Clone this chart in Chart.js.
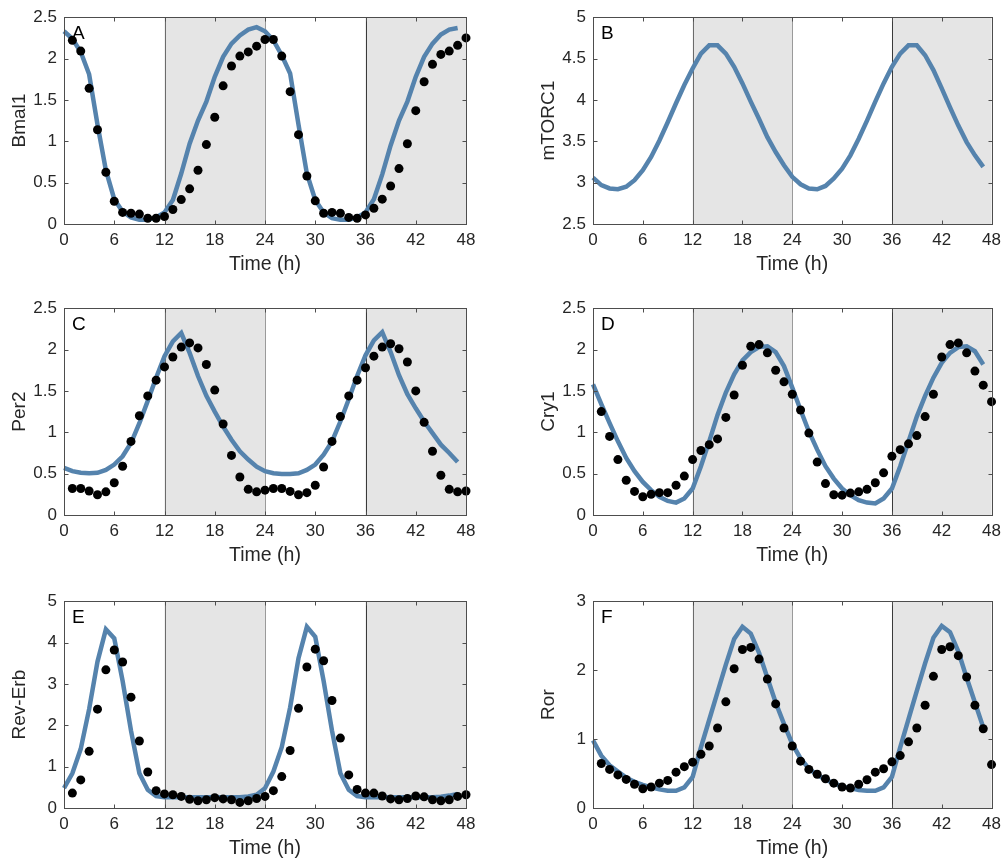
<!DOCTYPE html>
<html>
<head>
<meta charset="utf-8">
<script src="https://cdn.jsdelivr.net/npm/chart.js@4.4.1/dist/chart.umd.min.js"></script>
<style>
  body { margin: 0; background: #fff; }
  #wrap { position: relative; width: 1007px; height: 861px; overflow: hidden; }
  canvas { position: absolute; }
</style>
</head>
<body>
<div id="wrap">
  <canvas id="pA" width="490" height="280" style="left:0;top:0"></canvas>
  <canvas id="pB" width="478" height="280" style="left:529px;top:0"></canvas>
  <canvas id="pC" width="490" height="280" style="left:0;top:291px"></canvas>
  <canvas id="pD" width="478" height="280" style="left:529px;top:291px"></canvas>
  <canvas id="pE" width="490" height="280" style="left:0;top:584px"></canvas>
  <canvas id="pF" width="478" height="280" style="left:529px;top:584px"></canvas>
</div>
<script>
// time points (h)
const hoursModel = [0,1,2,3,4,5,6,7,8,9,10,11,12,13,14,15,16,17,18,19,20,21,22,23,
  24,25,26,27,28,29,30,31,32,33,34,35,36,37,38,39,40,41,42,43,44,45,46,47];
const hoursData = [1,2,3,4,5,6,7,8,9,10,11,12,13,14,15,16,17,18,19,20,21,22,23,24,
  25,26,27,28,29,30,31,32,33,34,35,36,37,38,39,40,41,42,43,44,45,46,47,48];
const xTicks = [0, 6, 12, 18, 24, 30, 36, 42, 48];
const darkPhases = [[12, 24], [36, 48]];
const phaseLines = [12, 24, 36];

// A - Bmal1
const bmal1Model = [2.33,2.24,2.08,1.81,1.2,0.65,0.3,0.15,0.08,0.05,0.05,0.08,
  0.14,0.29,0.61,0.97,1.25,1.48,1.78,2.02,2.18,2.28,2.35,2.38,
  2.33,2.22,2.04,1.82,1.2,0.61,0.29,0.14,0.07,0.05,0.05,0.08,
  0.14,0.3,0.6,0.95,1.25,1.48,1.78,2.02,2.18,2.29,2.35,2.37];
const bmal1Data = [2.22,2.09,1.64,1.14,0.625,0.275,0.14,0.13,0.12,0.07,0.07,0.09,
  0.175,0.295,0.425,0.65,0.96,1.29,1.67,1.91,2.03,2.08,2.15,2.23,
  2.23,2.03,1.60,1.08,0.58,0.28,0.13,0.14,0.13,0.08,0.07,0.11,
  0.19,0.30,0.46,0.67,0.97,1.37,1.72,1.93,2.05,2.09,2.16,2.25];
const bmal1Ticks = [0, 0.5, 1, 1.5, 2, 2.5];

// B - mTORC1
const mtorc1Model = [3.06,2.97,2.93,2.92,2.95,3.03,3.15,3.31,3.51,3.73,3.96,4.18,
  4.38,4.56,4.66,4.66,4.56,4.40,4.20,3.98,3.77,3.55,3.37,3.21,
  3.07,2.98,2.93,2.92,2.96,3.05,3.17,3.33,3.53,3.75,3.98,4.20,
  4.40,4.56,4.66,4.66,4.54,4.36,4.14,3.91,3.69,3.49,3.33,3.19];
const mtorc1Ticks = [2.5, 3, 3.5, 4, 4.5, 5];

// C - Per2
const per2Model = [0.57,0.53,0.51,0.505,0.51,0.545,0.61,0.71,0.87,1.11,1.38,1.66,
  1.92,2.10,2.20,1.96,1.68,1.44,1.25,1.07,0.91,0.77,0.67,0.585,
  0.53,0.505,0.495,0.495,0.505,0.545,0.61,0.73,0.89,1.13,1.40,1.68,
  1.93,2.11,2.21,1.97,1.69,1.46,1.29,1.13,0.99,0.85,0.75,0.64];
const per2Data = [0.32,0.32,0.29,0.245,0.28,0.39,0.59,0.89,1.20,1.44,1.63,1.79,
  1.91,2.03,2.08,2.02,1.82,1.51,1.10,0.72,0.46,0.31,0.28,0.30,
  0.32,0.32,0.285,0.245,0.27,0.36,0.58,0.89,1.19,1.44,1.63,1.78,
  1.92,2.03,2.07,2.01,1.85,1.50,1.12,0.77,0.48,0.31,0.28,0.29];
const per2Ticks = [0, 0.5, 1, 1.5, 2, 2.5];

// D - Cry1
const cry1Model = [1.58,1.34,1.11,0.89,0.69,0.53,0.40,0.30,0.22,0.17,0.15,0.20,
  0.32,0.59,0.89,1.21,1.48,1.70,1.87,1.97,2.03,2.04,1.97,1.80,
  1.54,1.27,1.01,0.79,0.59,0.44,0.32,0.24,0.18,0.15,0.14,0.20,
  0.32,0.59,0.89,1.19,1.44,1.66,1.84,1.96,2.03,2.04,1.98,1.82];
const cry1Data = [1.25,0.95,0.67,0.42,0.285,0.22,0.25,0.27,0.27,0.36,0.47,0.67,
  0.78,0.85,0.92,1.18,1.45,1.81,2.04,2.06,1.96,1.75,1.61,1.46,
  1.27,0.99,0.64,0.38,0.245,0.24,0.265,0.28,0.31,0.39,0.51,0.71,
  0.79,0.86,0.96,1.19,1.46,1.91,2.06,2.08,1.96,1.74,1.57,1.37];
const cry1Ticks = [0, 0.5, 1, 1.5, 2, 2.5];

// E - Rev-Erb
const revErbModel = [0.48,0.84,1.43,2.39,3.54,4.32,4.10,3.07,1.87,0.84,0.44,0.29,
  0.26,0.26,0.26,0.26,0.26,0.26,0.26,0.26,0.26,0.26,0.28,0.32,
  0.48,0.88,1.47,2.43,3.62,4.38,4.14,3.07,1.87,0.84,0.44,0.29,
  0.26,0.26,0.26,0.26,0.26,0.26,0.26,0.26,0.26,0.27,0.30,0.34];
const revErbData = [0.36,0.68,1.37,2.39,3.34,3.82,3.53,2.68,1.62,0.87,0.42,0.34,
  0.32,0.28,0.21,0.175,0.20,0.25,0.22,0.20,0.135,0.175,0.23,0.28,
  0.42,0.76,1.39,2.41,3.41,3.84,3.56,2.60,1.69,0.80,0.45,0.36,
  0.36,0.29,0.22,0.20,0.23,0.29,0.27,0.20,0.175,0.20,0.28,0.32];
const revErbTicks = [0, 1, 2, 3, 4, 5];

// F - Ror
const rorModel = [0.98,0.76,0.62,0.53,0.44,0.38,0.335,0.30,0.27,0.25,0.25,0.30,
  0.45,0.88,1.28,1.68,2.08,2.45,2.63,2.53,2.25,1.89,1.53,1.22,
  0.93,0.72,0.57,0.48,0.41,0.36,0.31,0.29,0.26,0.25,0.25,0.30,
  0.45,0.88,1.29,1.70,2.10,2.47,2.64,2.55,2.27,1.89,1.53,1.17];
const rorData = [0.645,0.56,0.48,0.415,0.345,0.28,0.305,0.36,0.40,0.52,0.60,0.665,
  0.78,0.90,1.16,1.54,2.02,2.30,2.33,2.16,1.87,1.51,1.16,0.90,
  0.68,0.56,0.49,0.425,0.36,0.305,0.29,0.345,0.41,0.52,0.57,0.67,
  0.76,0.96,1.16,1.49,1.91,2.30,2.34,2.21,1.90,1.49,1.15,0.63];
const rorTicks = [0, 1, 2, 3];

const FONT = "'Liberation Sans', Arial, Helvetica, sans-serif";
const TXT = '#262626';
const BLUE = '#5583ad';

// grey night bands + phase lines behind the data
const shadePlugin = {
  id: 'shade',
  beforeDatasetsDraw(chart) {
    const { ctx, chartArea: a } = chart;
    const x = chart.scales.x;
    ctx.save();
    ctx.fillStyle = '#e5e5e5';
    darkPhases.forEach(([s, e]) => {
      const x0 = x.getPixelForValue(s), x1 = x.getPixelForValue(e);
      ctx.fillRect(x0, a.top, x1 - x0, a.bottom - a.top);
    });
    const lineCols = ['#6b6b6b', '#9a9a9a', '#3a3a3a'];
    phaseLines.forEach((t, i) => {
      const px = Math.round(x.getPixelForValue(t)) + 0.5;
      ctx.strokeStyle = lineCols[i];
      ctx.lineWidth = 1;
      ctx.beginPath();
      ctx.moveTo(px, a.top);
      ctx.lineTo(px, a.bottom);
      ctx.stroke();
    });
    ctx.restore();
  }
};

// matlab style box with inward ticks and panel letter
const boxPlugin = {
  id: 'box',
  afterDraw(chart, args, opts) {
    const { ctx, chartArea: a } = chart;
    const { x, y } = chart.scales;
    const L = Math.round(a.left) + 0.5, R = Math.round(a.right) + 0.5;
    const T = Math.round(a.top) + 0.5, B = Math.round(a.bottom) + 0.5;
    ctx.save();
    ctx.strokeStyle = '#4d4d4d';
    ctx.lineWidth = 1;
    ctx.strokeRect(L, T, R - L, B - T);
    ctx.beginPath();
    x.ticks.forEach(t => {
      const px = Math.round(x.getPixelForValue(t.value)) + 0.5;
      ctx.moveTo(px, B); ctx.lineTo(px, B - 4);
      ctx.moveTo(px, T); ctx.lineTo(px, T + 4);
    });
    y.ticks.forEach(t => {
      const py = Math.round(y.getPixelForValue(t.value)) + 0.5;
      ctx.moveTo(L, py); ctx.lineTo(L + 4, py);
      ctx.moveTo(R, py); ctx.lineTo(R - 4, py);
    });
    ctx.stroke();
    ctx.fillStyle = '#000';
    ctx.font = '19px ' + FONT;
    ctx.textBaseline = 'middle';
    ctx.textAlign = 'left';
    ctx.fillText(opts.letter, a.left + 8, a.top + 17);
    ctx.restore();
  }
};

function makePanel(id, letter, yLabel, model, data, yTicks) {
  const datasets = [];
  if (data) {
    datasets.push({
      data: hoursData.map((t, i) => ({ x: t, y: data[i] })),
      showLine: false,
      pointRadius: 4.5,
      pointBackgroundColor: '#000',
      pointBorderWidth: 0,
      clip: false,
      order: 0
    });
  }
  datasets.push({
    data: hoursModel.map((t, i) => ({ x: t, y: model[i] })),
    showLine: true,
    borderColor: BLUE,
    borderWidth: 4.5,
    pointRadius: 0,
    tension: 0,
    clip: false,
    order: 1
  });

  new Chart(document.getElementById(id), {
    type: 'scatter',
    data: { datasets },
    plugins: [shadePlugin, boxPlugin],
    options: {
      responsive: false,
      animation: false,
      events: [],
      layout: { padding: { top: 15, right: id === 'pA' || id === 'pC' || id === 'pE' ? 24 : 13, left: 0, bottom: 0 } },
      plugins: {
        legend: { display: false },
        tooltip: { enabled: false },
        box: { letter }
      },
      scales: {
        x: {
          type: 'linear',
          min: 0, max: 48,
          afterBuildTicks: s => { s.ticks = xTicks.map(v => ({ value: v })); },
          afterFit: s => { s.height = 56; },
          grid: { display: false, drawTicks: false },
          border: { display: false },
          ticks: { color: TXT, font: { family: FONT, size: 17 }, padding: 6, maxRotation: 0, autoSkip: false, callback: v => String(v) },
          title: { display: true, text: 'Time (h)', color: TXT, font: { family: FONT, size: 19.5 }, padding: { top: 0, bottom: 4 } }
        },
        y: {
          type: 'linear',
          min: yTicks[0], max: yTicks[yTicks.length - 1],
          afterBuildTicks: s => { s.ticks = yTicks.map(v => ({ value: v })); },
          afterFit: s => { s.width = 64; },
          grid: { display: false, drawTicks: false },
          border: { display: false },
          ticks: { color: TXT, font: { family: FONT, size: 17 }, padding: 7, autoSkip: false, callback: v => String(v) },
          title: { display: true, text: yLabel, color: TXT, font: { family: FONT, size: 19 }, padding: { top: 8, bottom: 0 } }
        }
      }
    }
  });
}

makePanel('pA', 'A', 'Bmal1', bmal1Model, bmal1Data, bmal1Ticks);
makePanel('pB', 'B', 'mTORC1', mtorc1Model, null, mtorc1Ticks);
makePanel('pC', 'C', 'Per2', per2Model, per2Data, per2Ticks);
makePanel('pD', 'D', 'Cry1', cry1Model, cry1Data, cry1Ticks);
makePanel('pE', 'E', 'Rev-Erb', revErbModel, revErbData, revErbTicks);
makePanel('pF', 'F', 'Ror', rorModel, rorData, rorTicks);
</script>
</body>
</html>
